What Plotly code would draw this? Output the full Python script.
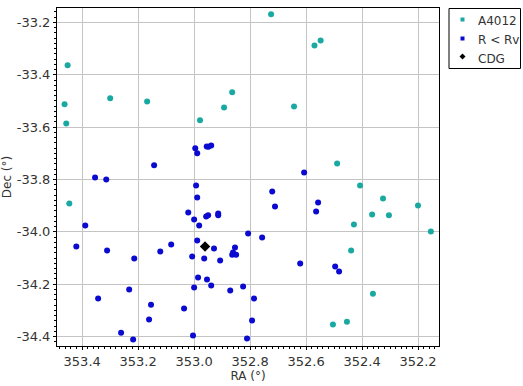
import plotly.graph_objects as go

# A4012 members (cyan)
a4012_ra = [353.452, 353.463, 353.457, 353.300, 353.168, 352.979, 352.893, 352.864,
            352.725, 352.570, 352.548, 352.643, 352.489, 352.407, 353.446,
            352.325, 352.364, 352.304, 352.200, 352.429, 352.154, 352.439,
            352.361, 352.454, 352.504]
a4012_dec = [-33.364, -33.513, -33.586, -33.490, -33.502, -33.574, -33.525, -33.467,
             -33.169, -33.288, -33.269, -33.521, -33.739, -33.823, -33.892,
             -33.873, -33.934, -33.937, -33.899, -33.972, -33.999, -34.071,
             -34.236, -34.343, -34.354]

# R < Rv (blue)
rrv_ra = [352.607, 353.354, 353.314, 353.143, 352.996, 352.989, 352.955, 352.949, 352.939,
          352.993, 353.389, 353.421, 353.311, 353.214, 353.343, 353.232, 353.261, 353.218,
          353.154, 353.161, 353.121, 353.082, 353.036, 353.004, 353.000, 353.007, 352.989,
          353.021, 353.000, 352.982, 352.989, 352.964, 352.986, 352.954, 352.939, 352.957,
          352.950, 352.914, 352.914, 352.929, 352.907, 352.871, 352.864, 352.861, 352.854,
          352.850, 352.825, 352.807, 352.811, 352.793, 352.786, 352.721, 352.711, 352.557,
          352.564, 352.757, 352.621, 352.496, 352.482]
rrv_dec = [-33.773, -33.792, -33.800, -33.746, -33.681, -33.700, -33.674, -33.675, -33.670,
           -33.823, -33.976, -34.056, -34.071, -34.102, -34.255, -34.220, -34.385, -34.411,
           -34.278, -34.335, -34.075, -34.048, -34.293, -34.396, -34.213, -34.094, -33.869,
           -33.926, -33.953, -33.976, -34.033, -34.102, -34.174, -34.182, -34.205, -33.941,
           -33.937, -33.930, -33.937, -34.064, -34.109, -34.224, -34.087, -34.079, -34.060,
           -34.087, -34.209, -34.006, -34.407, -34.339, -34.255, -33.846, -33.903, -33.888,
           -33.922, -34.022, -34.121, -34.132, -34.151]

# CDG
cdg_ra = [352.961]
cdg_dec = [-34.056]

# tick labels
x_tickvals = [353.4, 353.2, 353.0, 352.8, 352.6, 352.4, 352.2]
x_ticktext = ["353.4", "353.2", "353.0", "352.8", "352.6", "352.4", "352.2"]
y_tickvals = [-33.2, -33.4, -33.6, -33.8, -34.0, -34.2, -34.4]
y_ticktext = ["-33.2", "-33.4", "-33.6", "-33.8", "-34.0", "-34.2", "-34.4"]

series_names = ["A4012", "R &lt; Rv", "CDG"]

teal = "#1aa9a2"
blue = "#0a0ad0"

fig = go.Figure()
fig.add_trace(go.Scatter(x=a4012_ra, y=a4012_dec, mode="markers", name="A4012",
                         marker=dict(color=teal, size=6, line=dict(width=0))))
fig.add_trace(go.Scatter(x=rrv_ra, y=rrv_dec, mode="markers", name="R < Rv",
                         marker=dict(color=blue, size=6, line=dict(width=0))))
fig.add_trace(go.Scatter(x=cdg_ra, y=cdg_dec, mode="markers", name="CDG",
                         marker=dict(color="black", size=8, symbol="diamond", line=dict(width=0))))

axis_common = dict(
    automargin=False,
    showgrid=True, gridcolor="#c4c4c4", gridwidth=1,
    showline=True, linecolor="black", linewidth=1, mirror=True,
    ticks="outside", ticklen=3, tickcolor="black",
    minor=dict(ticks="outside", ticklen=2, tickcolor="black", dtick=0.02, tick0=0,
               showgrid=False),
    zeroline=False,
    tickmode="array",
    tickfont=dict(family="DejaVu Sans", size=13, color="#333333"),
    title_font=dict(family="DejaVu Sans", size=12, color="#333333"),
)

# plot area in window pixels: x 57..439, y 8..346
def px_x(p):
    return (p - 57) / 382.0

def px_y(p):
    return (346 - p) / 338.0

shapes = [dict(type="rect", xref="paper", yref="paper",
               x0=px_x(449), x1=px_x(520.5), y0=px_y(68.5), y1=px_y(8.5),
               line=dict(color="black", width=1), fillcolor="white")]
legend_colors = [teal, blue, "black"]
marker_rows = [19.5, 38.5, 56.5]
text_rows = [21.0, 40.0, 58.5]
for i, (c, r) in enumerate(zip(legend_colors, marker_rows)):
    if i < 2:
        shapes.append(dict(type="rect", xref="paper", yref="paper",
                           x0=px_x(460.5), x1=px_x(464.5), y0=px_y(r + 2), y1=px_y(r - 2),
                           line=dict(width=0), fillcolor=c))
    else:
        cx, cy, h = 462.5, r, 3
        path = (f"M {px_x(cx)},{px_y(cy - h)} L {px_x(cx + h)},{px_y(cy)} "
                f"L {px_x(cx)},{px_y(cy + h)} L {px_x(cx - h)},{px_y(cy)} Z")
        shapes.append(dict(type="path", xref="paper", yref="paper", path=path,
                           line=dict(width=0), fillcolor=c))

annotations = [dict(text=name, xref="paper", yref="paper", x=px_x(475.5), y=px_y(r),
                    xanchor="left", yanchor="middle", showarrow=False,
                    font=dict(family="DejaVu Sans", size=12, color="#333333"))
               for name, r in zip(series_names, text_rows)]

fig.update_layout(
    width=523, height=386,
    autosize=False,
    margin=dict(l=57, r=84, t=8, b=40, pad=0, autoexpand=False),
    paper_bgcolor="white", plot_bgcolor="white",
    showlegend=False,
    hovermode=False,
    xaxis=dict(range=[353.49, 352.125], tickvals=x_tickvals, ticktext=x_ticktext,
               title=dict(text="RA (°)", standoff=4), **axis_common),
    yaxis=dict(range=[-34.436, -33.145], tickvals=y_tickvals, ticktext=y_ticktext,
               title=dict(text="Dec (°)", standoff=6), **axis_common),
    shapes=shapes,
    annotations=annotations,
)

fig.write_html(
    "out.html",
    config={"displayModeBar": False, "staticPlot": True},
    post_script="document.body.style.margin='0';document.body.style.overflow='hidden';",
)
